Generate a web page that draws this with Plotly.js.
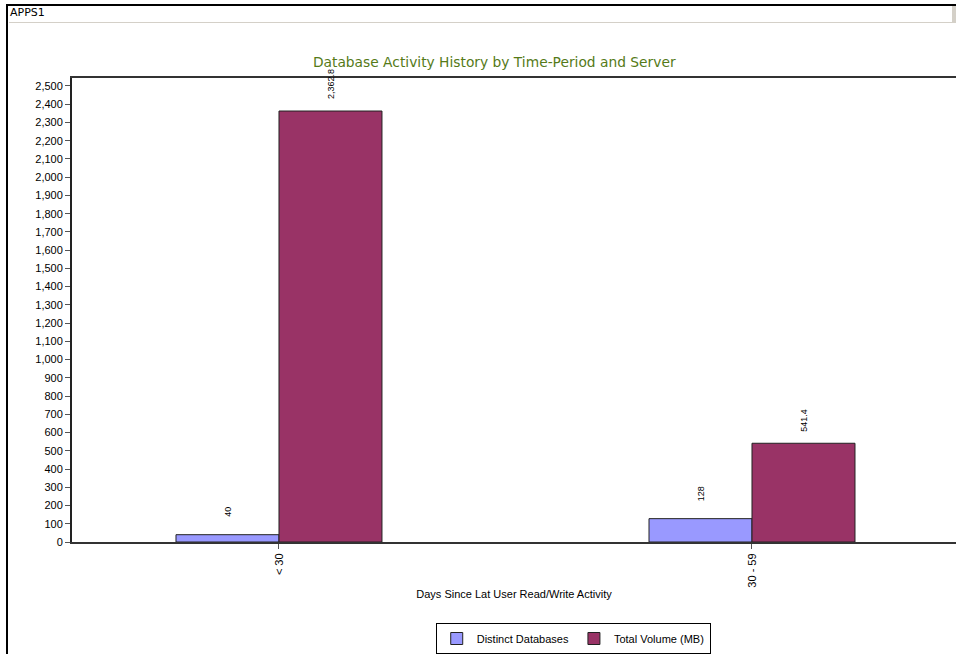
<!DOCTYPE html>
<html>
<head>
<meta charset="utf-8">
<script src="https://cdn.plot.ly/plotly-3.0.1.min.js"></script>
<style>
  html, body { margin: 0; padding: 0; background: #fff; overflow: hidden; }
  #wrap { position: relative; width: 956px; height: 654px; }
  #chart { position: absolute; left: 0; top: 0; width: 956px; height: 654px; }
  #frame { position: absolute; left: 6px; top: 4px; width: 960px; height: 660px;
           border-left: 2px solid #000; border-top: 2px solid #000; pointer-events: none; }
  #hdr { position: absolute; left: 9px; top: 6px; width: 960px; height: 16px;
         border-bottom: 1px solid #d4d0c8; font: 11px "DejaVu Sans", "Liberation Sans", sans-serif;
         color: #000; line-height: 14px; padding-left: 1px; pointer-events: none; }
  #btn { position: absolute; left: 951px; top: 6px; width: 8px; height: 16px; background: #d4d0c8;
         border-left: 1px solid #fff; pointer-events: none; }
</style>
</head>
<body>
<div id="wrap">
  <div id="chart"></div>
  <div id="frame"></div>
  <div id="hdr">APPS1</div>
  <div id="btn"></div>
</div>
<script>
// ---- data ----
var categories = ["< 30", "30 - 59"];
var distinctDatabases = [40, 128];
var totalVolumeMB = [2362.8, 541.4];
var distinctLabels = ["40", "128"];
var volumeLabels = ["2,362.8", "541.4"];
var seriesNames = ["Distinct Databases", "Total Volume (MB)"];

var blue = "#9999FF", plum = "#993366";

var traces = [
  { type: "bar", name: seriesNames[0], x: categories, y: distinctDatabases,
    marker: { color: blue, line: { color: "#222", width: 1 } }, hoverinfo: "x+y" },
  { type: "bar", name: seriesNames[1], x: categories, y: totalVolumeMB,
    marker: { color: plum, line: { color: "#222", width: 1 } }, hoverinfo: "x+y" }
];

var annotations = [];
for (var i = 0; i < categories.length; i++) {
  annotations.push({ x: categories[i], y: distinctDatabases[i], xref: "x", yref: "y",
    text: distinctLabels[i], showarrow: false, textangle: -90, xshift: -51, yshift: 16,
    yanchor: "bottom", font: { family: "Liberation Sans, Arial, sans-serif", size: 9, color: "#000" } });
  annotations.push({ x: categories[i], y: totalVolumeMB[i], xref: "x", yref: "y",
    text: volumeLabels[i], showarrow: false, textangle: -90, xshift: 52, yshift: 10,
    yanchor: "bottom", font: { family: "Liberation Sans, Arial, sans-serif", size: 9, color: "#000" } });
}

var layout = {
  width: 956, height: 654,
  margin: { l: 72, r: 0, t: 78, b: 111, pad: 0 },
  paper_bgcolor: "#fff", plot_bgcolor: "#fff",
  showlegend: true,
  barmode: "group", bargap: 0.5645, bargroupgap: 0,
  title: { text: "Database Activity History by Time-Period and Server",
    font: { family: "DejaVu Sans, Verdana, sans-serif", size: 13.8, color: "#557a18" },
    xref: "container", x: 0.517, xanchor: "center", yref: "container", y: 0.905, yanchor: "middle" },
  xaxis: {
    type: "category", range: [-0.4376, 1.4313], fixedrange: true,
    showline: true, linecolor: "#333", linewidth: 2, mirror: true,
    ticks: "outside", ticklen: 5, tickcolor: "#555", tickwidth: 1,
    tickangle: -90, showgrid: false, zeroline: false,
    tickfont: { family: "Liberation Sans, Arial, sans-serif", size: 11, color: "#000" },
    title: { text: "Days Since Lat User Read/Write Activity", standoff: 4,
      font: { family: "Liberation Sans, Arial, sans-serif", size: 11, color: "#000" } }
  },
  yaxis: {
    range: [0, 2543.8], dtick: 100, tick0: 0, tickformat: ",d", fixedrange: true,
    showline: true, linecolor: "#222", linewidth: 2, mirror: false,
    ticks: "outside", ticklen: 5, tickcolor: "#555", tickwidth: 1,
    showgrid: false, zeroline: false,
    tickfont: { family: "Liberation Sans, Arial, sans-serif", size: 11, color: "#000" }
  },
  legend: {
    orientation: "h", x: 0.567, xanchor: "center", y: -0.174, yanchor: "top",
    bgcolor: "#fff", bordercolor: "#000", borderwidth: 1,
    font: { family: "Liberation Sans, Arial, sans-serif", size: 11, color: "#000" },
    itemclick: false, itemdoubleclick: false
  },
  annotations: annotations
};

Plotly.newPlot("chart", traces, layout, { displayModeBar: false, staticPlot: true });
</script>
</body>
</html>
